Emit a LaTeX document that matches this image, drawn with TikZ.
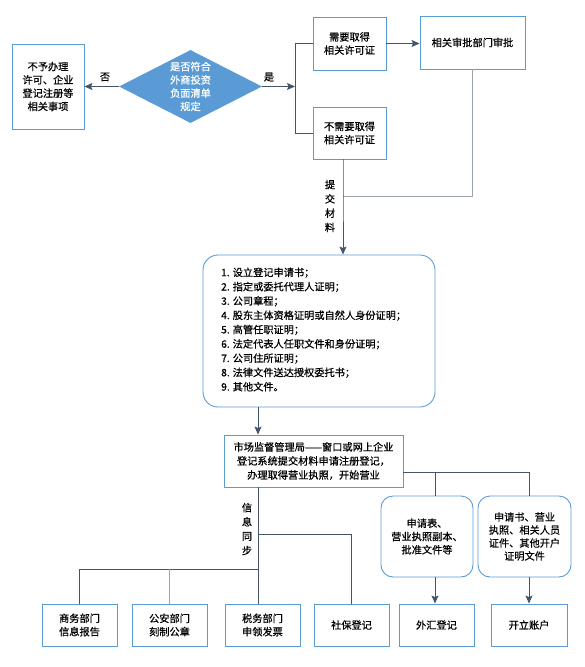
\documentclass[tikz,border=0pt]{standalone}
\usepackage{fontspec}
\setmainfont{Noto Sans CJK SC}[FakeBold=0.6]
\usetikzlibrary{arrows.meta,shapes.geometric}
\definecolor{boxblue}{HTML}{5B9BD5}
\definecolor{lineg}{HTML}{44546A}
\definecolor{lineL}{HTML}{9AA3AE}
\newcommand{\fsA}{\fontsize{10.2}{13.3}\selectfont}
\newcommand{\fsB}{\fontsize{10.2}{14.3}\selectfont}
\begin{document}
\begin{tikzpicture}[x=1pt,y=-1pt,
  box/.style={draw=boxblue, line width=0.9pt, inner sep=0pt, align=center, font=\fsA},
  rbox/.style={box, rounded corners=12pt},
  ln/.style={draw=lineg, line width=1pt},
  ln2/.style={draw=lineL, line width=1pt},
  arr/.style={ln, -{Stealth[length=8pt,width=7pt,inset=1.5pt]}},
  lbl/.style={inner sep=0pt, align=center, font=\fsA}]
\useasboundingbox (0,0) rectangle (584,667);

% top part
\node[box, minimum width=72, minimum height=85] (nop) at (48,86.5) {不予办理\\许可、企业\\登记注册等\\相关事项};
\node[diamond, fill=boxblue, minimum width=143, minimum height=73, inner sep=0pt] (q) at (190.5,86.5) {};
\node[lbl, text=white] at (q) {是否符合\\外商投资\\负面清单\\规定};
\node[box, minimum width=73, minimum height=53] (need) at (349.5,43.5) {需要取得\\相关许可证};
\node[box, minimum width=73, minimum height=52] (nn) at (349.5,133) {不需要取得\\相关许可证};
\node[box, minimum width=105, minimum height=53] (appr) at (472.5,42.5) {相关审批部门审批};

\coordinate (yesJ) at (295,86.5);
\coordinate (join) at (343,196);

\draw[arr] (q.west) -- (nop.east);
\node[lbl] at (105,77) {否};
\draw[arr] (q.east) -- (yesJ);
\node[lbl] at (269,77) {是};
\draw[ln] (need.west) -| (yesJ);
\draw[ln] (nn.west) -| (yesJ);
\draw[arr] (need.east) -- (need.east -| appr.west);
\draw[ln2] (appr.south) |- (join);

% list box
\node[rbox, rounded corners=15pt, minimum width=232, minimum height=152] (list) at (319,331) {};
\node[inner sep=0pt, anchor=west, align=left, font=\fsB] at (221,329.5) {1. 设立登记申请书；\\2. 指定或委托代理人证明；\\3. 公司章程；\\4. 股东主体资格证明或自然人身份证明；\\5. 高管任职证明；\\6. 法定代表人任职文件和身份证明；\\7. 公司住所证明；\\8. 法律文件送达授权委托书；\\9. 其他文件。};

\draw[arr] (nn.south -| join) -- (join) -- (list.north -| join);
\node[lbl, font=\fsB] at (330,206) {提\\交\\材\\料};

% market box
\node[box, minimum width=179, minimum height=52, font=\fontsize{10.2}{14}\selectfont] (market) at (313.5,461) {市场监督管理局——窗口或网上企业\\登记系统提交材料申请注册登记，\\办理取得营业执照，开始营业};
\coordinate (trunk) at (258,534);
\coordinate (trunk2) at (258,569);
\draw[arr] (list.south -| trunk) -- (market.north -| trunk);

% bottom boxes
\node[box, minimum width=75, minimum height=42] (sw) at (79.5,625) {商务部门\\信息报告};
\node[box, minimum width=75, minimum height=42] (ga) at (169.5,625) {公安部门\\刻制公章};
\node[box, minimum width=75, minimum height=42] (tax) at (262.5,625) {税务部门\\申领发票};
\node[box, minimum width=75, minimum height=42] (sb) at (351.5,625) {社保登记};
\node[box, minimum width=75, minimum height=42] (wh) at (436.5,625) {外汇登记};
\node[box, minimum width=76, minimum height=42] (kl) at (529,625) {开立账户};

\node[rbox, minimum width=92, minimum height=81] (rb1) at (427,536.5) {申请表、\\营业执照副本、\\批准文件等};
\node[rbox, minimum width=93, minimum height=81, font=\fontsize{10.2}{13}\selectfont] (rb2) at (524.5,536.5) {申请书、营业\\执照、相关人员\\证件、其他开户\\证明文件};

\draw[ln] (market.south -| trunk) -- (tax.north -| trunk);
\draw[ln] (trunk) -| (sb.north);
\draw[ln] (trunk2) -| (sw.north);
\draw[ln2] (ga.north) -- (ga.north |- trunk2);
\node[lbl, font=\fsB] at (247,529) {信\\息\\同\\步};

\coordinate (split) at (435,472);
\draw[ln] (market.east |- split) -- (split) -- (split |- rb1.north);
\draw[ln] (split) -| (rb2.north -| kl.north);
\draw[arr] (rb1.south -| split) -- (wh.north -| split);
\draw[arr] (rb2.south -| kl.north) -- (kl.north);
\end{tikzpicture}
\end{document}
